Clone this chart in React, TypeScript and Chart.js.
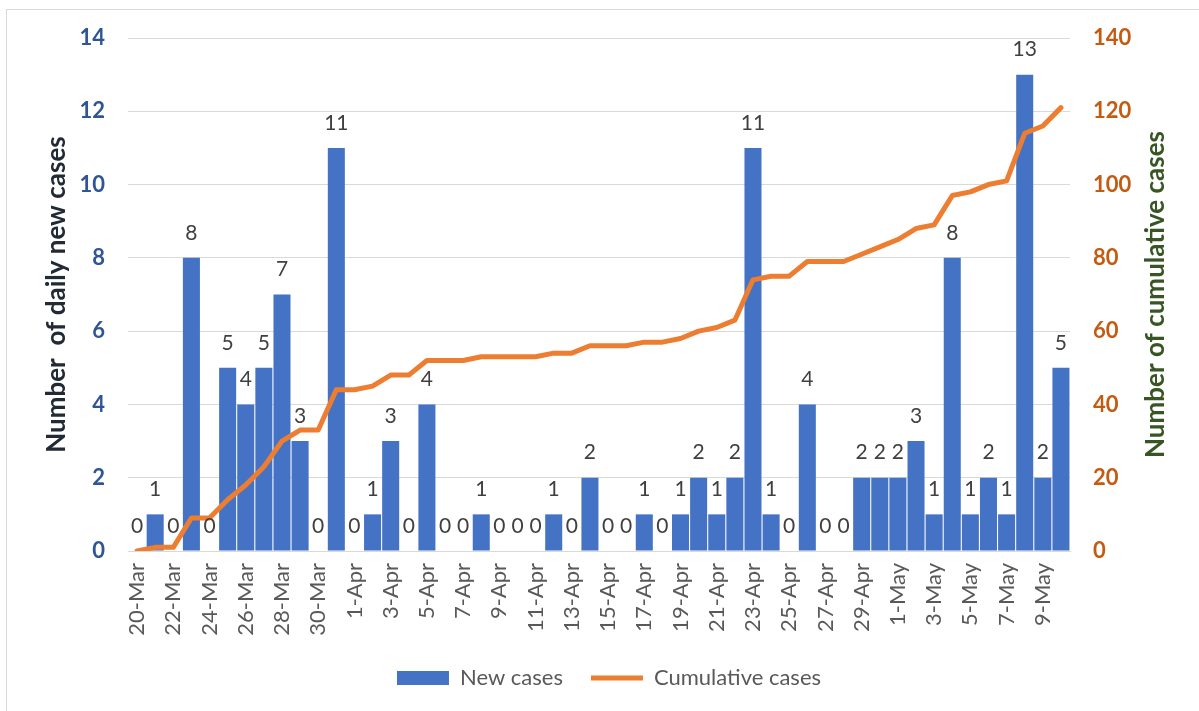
import React, { useEffect, useRef } from "react";
import { Chart, registerables } from "chart.js";

Chart.register(...registerables);

const categories = [
  "20-Mar", "21-Mar", "22-Mar", "23-Mar", "24-Mar", "25-Mar", "26-Mar", "27-Mar", "28-Mar", "29-Mar", "30-Mar", "31-Mar",
  "1-Apr", "2-Apr", "3-Apr", "4-Apr", "5-Apr", "6-Apr", "7-Apr", "8-Apr", "9-Apr", "10-Apr",
  "11-Apr", "12-Apr", "13-Apr", "14-Apr", "15-Apr", "16-Apr", "17-Apr", "18-Apr", "19-Apr", "20-Apr",
  "21-Apr", "22-Apr", "23-Apr", "24-Apr", "25-Apr", "26-Apr", "27-Apr", "28-Apr", "29-Apr", "30-Apr",
  "1-May", "2-May", "3-May", "4-May", "5-May", "6-May", "7-May", "8-May", "9-May", "10-May",
];

const newCases = [
  0, 1, 0, 8, 0, 5, 4, 5, 7, 3, 0, 11,
  0, 1, 3, 0, 4, 0, 0, 1, 0, 0,
  0, 1, 0, 2, 0, 0, 1, 0, 1, 2,
  1, 2, 11, 1, 0, 4, 0, 0, 2, 2,
  2, 3, 1, 8, 1, 2, 1, 13, 2, 5,
];

const cumulativeCases = [
  0, 1, 1, 9, 9, 14, 18, 23, 30, 33, 33, 44,
  44, 45, 48, 48, 52, 52, 52, 53, 53, 53,
  53, 54, 54, 56, 56, 56, 57, 57, 58, 60,
  61, 63, 74, 75, 75, 79, 79, 79, 81, 83,
  85, 88, 89, 97, 98, 100, 101, 114, 116, 121,
];

const leftTicks = [0, 2, 4, 6, 8, 10, 12, 14];
const rightTicks = [0, 20, 40, 60, 80, 100, 120, 140];

const leftTitle = "Number  of daily new cases";
const rightTitle = "Number of cumulative cases";

const FONT = "Lato, 'Open Sans', sans-serif";

const labelPlugin = {
  id: "barLabels",
  afterDatasetsDraw(chart: any) {
    const ctx = chart.ctx;
    const meta = chart.getDatasetMeta(0);
    ctx.save();
    ctx.font = `21px ${FONT}`;
    ctx.fillStyle = "#404040";
    ctx.textAlign = "center";
    ctx.textBaseline = "middle";
    meta.data.forEach((bar: any, i: number) => {
      ctx.fillText(String(newCases[i]), bar.x, bar.y - 25);
    });
    ctx.restore();
  },
};

const titlePlugin = {
  id: "axisTitles",
  afterDraw(chart: any) {
    const ctx = chart.ctx;
    const area = chart.chartArea;
    const cy = (area.top + area.bottom) / 2;
    ctx.save();
    ctx.font = `bold 26px ${FONT}`;
    ctx.textAlign = "center";
    ctx.textBaseline = "middle";
    ctx.fillStyle = "#222A35";
    ctx.translate(57, cy);
    ctx.rotate(-Math.PI / 2);
    ctx.fillText(leftTitle, 0, 0);
    ctx.restore();
    ctx.save();
    ctx.font = `bold 26px ${FONT}`;
    ctx.textAlign = "center";
    ctx.textBaseline = "middle";
    ctx.fillStyle = "#375623";
    ctx.translate(1156, cy);
    ctx.rotate(-Math.PI / 2);
    ctx.fillText(rightTitle, 0, 0);
    ctx.restore();
  },
};

export default function App() {
  const canvasRef = useRef<HTMLCanvasElement | null>(null);

  useEffect(() => {
    if (!canvasRef.current) return;
    const chart = new Chart(canvasRef.current, {
      type: "bar",
      data: {
        labels: categories,
        datasets: [
          {
            type: "bar",
            label: "New cases",
            data: newCases,
            backgroundColor: "#4472C4",
            borderWidth: 0,
            barPercentage: 0.94,
            categoryPercentage: 1,
            yAxisID: "y",
            order: 1,
            pointStyle: "rect",
          } as any,
          {
            type: "line",
            label: "Cumulative cases",
            data: cumulativeCases,
            borderColor: "#ED7D31",
            backgroundColor: "#ED7D31",
            borderWidth: 5,
            borderCapStyle: "round",
            borderJoinStyle: "round",
            pointRadius: 0,
            pointHoverRadius: 0,
            tension: 0,
            yAxisID: "y1",
            order: 0,
            pointStyle: "line",
          } as any,
        ],
      },
      options: {
        animation: false,
        responsive: false,
        maintainAspectRatio: false,
        layout: { padding: { left: 19, right: 0, top: 38, bottom: 12 } },
        plugins: {
          tooltip: { enabled: false },
          legend: {
            position: "bottom",
            labels: {
              usePointStyle: true,
              pointStyleWidth: 52,
              boxHeight: 14,
              padding: 28,
              color: "#595959",
              font: { family: FONT, size: 22 },
              sort: (a: any, b: any) => a.datasetIndex - b.datasetIndex,
            },
          },
        },
        scales: {
          x: {
            grid: { display: false, drawTicks: false },
            border: { display: true, color: "#D9D9D9", width: 1 },
            ticks: {
              autoSkip: false,
              maxRotation: 90,
              minRotation: 90,
              padding: 12,
              color: "#595959",
              font: { family: FONT, size: 22 },
              callback: (_v: any, i: number) => (i % 2 === 0 ? categories[i] : ""),
            },
            afterFit: (s: any) => {
              s.height = 88;
            },
          },
          y: {
            position: "left",
            min: 0,
            max: 14,
            afterBuildTicks: (s: any) => {
              s.ticks = leftTicks.map((v) => ({ value: v }));
            },
            grid: { color: "#D9D9D9", lineWidth: 1, drawTicks: false },
            border: { display: false },
            ticks: {
              padding: 23,
              color: "#2F5597",
              font: { family: FONT, size: 22, weight: "bold" },
            },
            afterFit: (s: any) => {
              s.width = 109;
            },
          },
          y1: {
            position: "right",
            min: 0,
            max: 140,
            afterBuildTicks: (s: any) => {
              s.ticks = rightTicks.map((v) => ({ value: v }));
            },
            grid: { display: false, drawTicks: false },
            border: { display: false },
            ticks: {
              padding: 23,
              color: "#C55A11",
              font: { family: FONT, size: 22, weight: "bold" },
            },
            afterFit: (s: any) => {
              s.width = 129;
            },
          },
        },
      },
      plugins: [labelPlugin, titlePlugin],
    } as any);
    return () => chart.destroy();
  }, []);

  return (
    <div style={{ position: "fixed", left: 0, top: 0, width: 1199, height: 711, background: "#fff", overflow: "hidden" }}>
      <div
        style={{
          position: "absolute",
          left: 6,
          top: 9,
          width: 1210,
          height: 720,
          border: "1px solid #D9D9D9",
          boxSizing: "border-box",
        }}
      />
      <canvas ref={canvasRef} width={1199} height={711} style={{ position: "absolute", left: 0, top: 0, display: "block" }} />
    </div>
  );
}
